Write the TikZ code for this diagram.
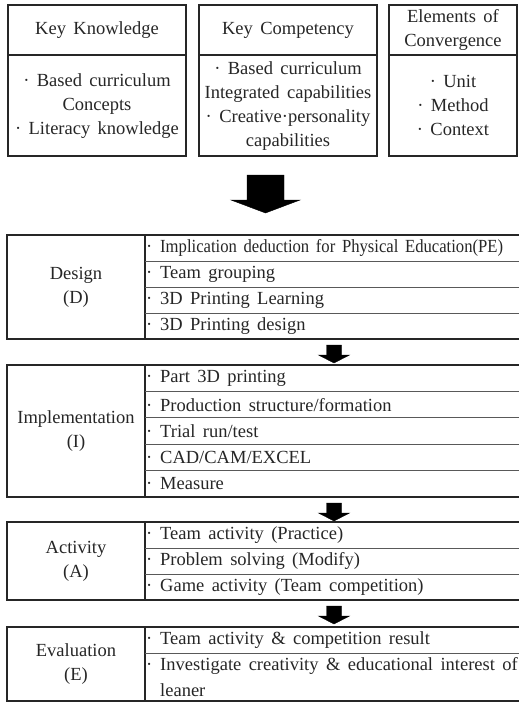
\documentclass[tikz,border=0pt]{standalone}
\usepackage{fontspec}
\setmainfont{Liberation Serif}[WordSpace=1.6]
\usepackage{graphicx}
\begin{document}
\begin{tikzpicture}[x=1pt,y=-1pt,
  txt/.style={font=\fontsize{18.5}{24}\selectfont, text=black!85, inner sep=0pt, align=center},
  item/.style={txt, anchor=west, align=left},
  frame/.style={draw=black!85, line width=1.2pt},
  rowline/.style={draw=black!65, line width=0.9pt},
  blockarrow/.style={fill=black, draw=black, line width=0.4pt, line join=miter}]
\useasboundingbox (0,0) rectangle (519,704);
\newcommand{\dotitem}[1]{\makebox[14pt][l]{·}#1}

% ---------- top boxes ----------
\draw[frame] (8,5) rectangle (186,156);
\draw[frame] (8,55) -- (186,55);
\draw[frame] (199,5) rectangle (377,156);
\draw[frame] (199,55) -- (377,55);
\draw[frame] (389,5) rectangle (517,156);
\draw[frame] (389,55) -- (517,55);

\node[txt] (kk) at (97,30) {Key Knowledge};
\node[txt] (kkb) at (97,106) {· Based curriculum\\Concepts\\· Literacy knowledge};
\node[txt] (kc) at (288,30) {Key Competency};
\node[txt] (kcb) at (288,106) {· Based curriculum\\Integrated capabilities\\· Creative·personality\\capabilities};
\node[txt] (ec) at (453,30) {Elements of\\Convergence};
\node[txt] (ecb) at (453,105) {· Unit\\· Method\\· Context};

% ---------- big arrow ----------
\coordinate (ba) at (265.5,175);
\draw[blockarrow] (247,175) -- (284,175) -- (284,200) -- (300,200) -- (265.5,213) -- (231,200) -- (247,200) -- cycle;

% ---------- Design ----------
\draw[frame] (519,235) -- (7,235) -- (7,339) -- (519,339);
\draw[frame] (145,235) -- (145,339);
\foreach \y in {261,287,313} \draw[rowline] (145,\y) -- (519,\y);
\node[txt] (d) at (76,287) {Design\\(D)};
\node[item] (d1) at (146,248) {\makebox[14pt][l]{·}\scalebox{0.9}[1]{Implication deduction for Physical Education(PE)}};
\node[item] (d2) at (146,274) {\dotitem{Team grouping}};
\node[item] (d3) at (146,300) {\dotitem{3D Printing Learning}};
\node[item] (d4) at (146,326) {\dotitem{3D Printing design}};

\draw[blockarrow] (326.5,345) -- (341.5,345) -- (341.5,355) -- (349.5,355) -- (334,363) -- (318.5,355) -- (326.5,355) -- cycle;

% ---------- Implementation ----------
\draw[frame] (519,365) -- (7,365) -- (7,497) -- (519,497);
\draw[frame] (145,365) -- (145,497);
\foreach \y in {391.4,417.8,444.2,470.6} \draw[rowline] (145,\y) -- (519,\y);
\node[txt] (i) at (76,431) {Implementation\\(I)};
\node[item] (i1) at (146,378.2) {\dotitem{Part 3D printing}};
\node[item] (i2) at (146,404.6) {\dotitem{Production structure/formation}};
\node[item] (i3) at (146,431) {\dotitem{Trial run/test}};
\node[item] (i4) at (146,457.4) {\dotitem{CAD/CAM/EXCEL}};
\node[item] (i5) at (146,483.8) {\dotitem{Measure}};

\draw[blockarrow] (326.5,503) -- (341.5,503) -- (341.5,513) -- (349.5,513) -- (334,521) -- (318.5,513) -- (326.5,513) -- cycle;

% ---------- Activity ----------
\draw[frame] (519,522) -- (7,522) -- (7,600) -- (519,600);
\draw[frame] (145,522) -- (145,600);
\foreach \y in {548,574} \draw[rowline] (145,\y) -- (519,\y);
\node[txt] (a) at (76,561) {Activity\\(A)};
\node[item] (a1) at (146,535) {\dotitem{Team activity (Practice)}};
\node[item] (a2) at (146,561) {\dotitem{Problem solving (Modify)}};
\node[item] (a3) at (146,587) {\dotitem{Game activity (Team competition)}};

\draw[blockarrow] (326.5,606) -- (341.5,606) -- (341.5,616) -- (349.5,616) -- (334,624) -- (318.5,616) -- (326.5,616) -- cycle;

% ---------- Evaluation ----------
\draw[frame] (519,627) -- (7,627) -- (7,701) -- (519,701);
\draw[frame] (145,627) -- (145,701);
\draw[rowline] (145,653) -- (519,653);
\node[txt] (e) at (76,664) {Evaluation\\(E)};
\node[item] (e1) at (146,640) {\dotitem{Team activity \& competition result}};
\node[item] (e2) at (146,666) {\dotitem{Investigate creativity \& educational interest of}};
\node[item] (e3) at (160,690) {leaner};
\end{tikzpicture}
\end{document}
